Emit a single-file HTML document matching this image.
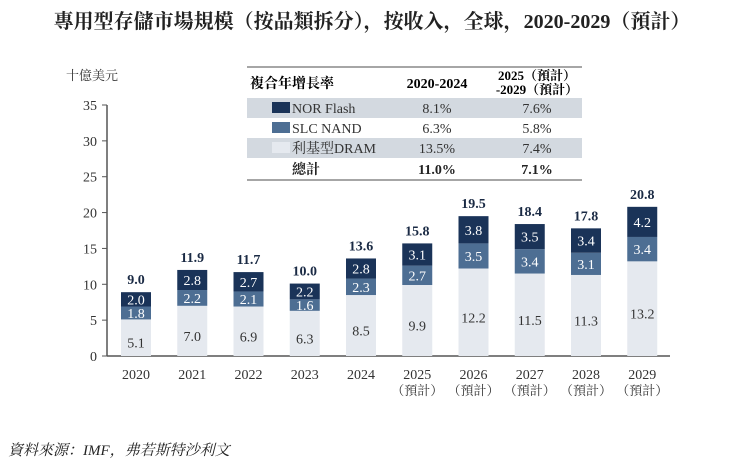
<!DOCTYPE html>
<html><head><meta charset="utf-8"><style>
body{margin:0;background:#fff;width:744px;height:470px;overflow:hidden;font-family:"Liberation Serif","Noto Serif CJK SC","Noto Sans CJK TC",serif;}
svg text{font-family:"Liberation Serif","Noto Serif CJK SC","Noto Sans CJK TC",serif;}
</style></head><body>
<svg width="744" height="470">
<text x="372" y="28" text-anchor="middle" font-size="20" font-weight="bold" fill="#222">專用型存儲市場規模（按品類拆分），按收入，全球，2020-2029（預計）</text>
<text x="92" y="80" text-anchor="middle" font-size="13" fill="#333">十億美元</text>
<g id="axes"></g><g id="bars"></g>
<g>
<line x1="247" y1="67" x2="582" y2="67" stroke="#888" stroke-width="1.5"/>
<text x="292" y="88" text-anchor="middle" font-size="14" font-weight="bold">複合年增長率</text>
<text x="437" y="88" text-anchor="middle" font-size="14" font-weight="bold">2020-2024</text>
<text x="537" y="80" text-anchor="middle" font-size="13" font-weight="bold">2025（預計）</text>
<text x="537" y="94" text-anchor="middle" font-size="13" font-weight="bold">-2029（預計）</text>
<rect x="247" y="98" width="335" height="20" fill="#d3d9e0"/>
<rect x="247" y="138" width="335" height="20" fill="#d3d9e0"/>
<rect x="272" y="102" width="18" height="11" fill="#1a3358"/>
<rect x="272" y="122" width="18" height="11" fill="#4d6e93"/>
<rect x="272" y="142" width="18" height="11" fill="#e5e9ef"/>
<g font-size="14" fill="#333">
<text x="292" y="113">NOR Flash</text><text x="437" y="113" text-anchor="middle">8.1%</text><text x="537" y="113" text-anchor="middle">7.6%</text>
<text x="292" y="133">SLC NAND</text><text x="437" y="133" text-anchor="middle">6.3%</text><text x="537" y="133" text-anchor="middle">5.8%</text>
<text x="292" y="153">利基型DRAM</text><text x="437" y="153" text-anchor="middle">13.5%</text><text x="537" y="153" text-anchor="middle">7.4%</text>
<text x="292" y="174" font-weight="bold" fill="#222">總計</text><text x="437" y="174" text-anchor="middle" font-weight="bold" fill="#222">11.0%</text><text x="537" y="174" text-anchor="middle" font-weight="bold" fill="#222">7.1%</text>
</g>
<line x1="247" y1="180" x2="582" y2="180" stroke="#888" stroke-width="1.5"/>
</g>
<text x="8" y="455" font-size="15" font-style="italic" fill="#222">資料來源：IMF，弗若斯特沙利文</text>
</svg>
<script>
const years=["2020","2021","2022","2023","2024","2025","2026","2027","2028","2029"];
const forecast=[false,false,false,false,false,true,true,true,true,true];
const dram=[5.1,7.0,6.9,6.3,8.5,9.9,12.2,11.5,11.3,13.2];
const slc=[1.8,2.2,2.1,1.6,2.3,2.7,3.5,3.4,3.1,3.4];
const nor=[2.0,2.8,2.7,2.2,2.8,3.1,3.8,3.5,3.4,4.2];
const totals=[9.0,11.9,11.7,10.0,13.6,15.8,19.5,18.4,17.8,20.8];
const yTicks=[0,5,10,15,20,25,30,35];
const NS="http://www.w3.org/2000/svg";
const y0=356,ppu=(356-105)/35;
const y=v=>y0-v*ppu;
const x=i=>136+i*56.25;
const bw=30;
function mk(tag,attrs,parent,txt){const e=document.createElementNS(NS,tag);for(const k in attrs)e.setAttribute(k,attrs[k]);if(txt!==undefined)e.textContent=txt;parent.appendChild(e);return e;}
const ax=document.getElementById('axes'),bg=document.getElementById('bars');
const yl=mk('line',{x1:107,y1:y(35),x2:107,y2:y0,stroke:'#555','stroke-width':1.5},ax);


const xl=mk('line',{x1:107,y1:y0,x2:670,y2:y0,stroke:'#555','stroke-width':1.5},ax);


yTicks.forEach(t=>{
 mk('line',{x1:102,y1:y(t),x2:107,y2:y(t),stroke:'#555'},ax);
 const tx=mk('text',{x:97,y:y(t)+5,'text-anchor':'end','font-size':14,fill:'#333'},ax,String(t));
 
 
});
const series=[[dram,'#e5e9ef','#333','dram'],[slc,'#4d6e93','#fff','slc-nand'],[nor,'#1a3358','#fff','nor-flash']];
years.forEach((yr,i)=>{
 let base=0;
 series.forEach(([arr,col,tc,nm])=>{
  const v=arr[i];
  const r=mk('rect',{x:x(i)-bw/2,y:y(base+v),width:bw,height:v*ppu,fill:col},bg);
  
  
  const ty=nm==='dram'?y(base+v/2)+Math.min(10,v*ppu/2-8):y(base+v/2)+5;
  mk('text',{x:x(i),y:ty,'text-anchor':'middle','font-size':14,fill:tc},bg,v.toFixed(1));
  base+=v;
 });
 const tl=mk('text',{x:x(i),y:y(base)-8,'text-anchor':'middle','font-size':14,'font-weight':'bold',fill:'#1a2a44'},bg,totals[i].toFixed(1));
 
 
 const xt=mk('text',{x:x(i),y:379,'text-anchor':'middle','font-size':14,fill:'#333'},bg,yr);
 
 
 if(forecast[i]) mk('text',{x:x(i),y:395,'text-anchor':'middle','font-size':13,fill:'#333'},bg,'（預計）');
});
</script>
</body></html>
